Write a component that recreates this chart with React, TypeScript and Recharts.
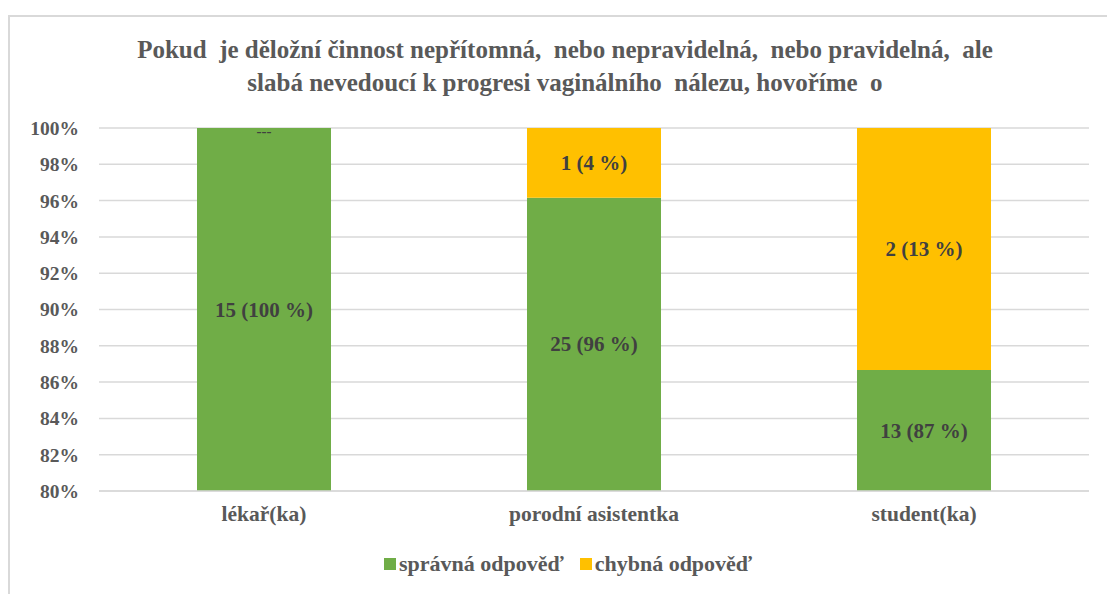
import React from 'react';
import { BarChart, Bar, XAxis, YAxis, CartesianGrid, LabelList, Legend } from 'recharts';

const categories = ['lékař(ka)', 'porodní asistentka', 'student(ka)'];
const correctCounts = [15, 25, 13];
const wrongCounts = [0, 1, 2];
const yTicks = [80, 82, 84, 86, 88, 90, 92, 94, 96, 98, 100];
const seriesNames = ['správná odpověď', 'chybná odpověď'];
const titleLines = [
  'Pokud  je děložní činnost nepřítomná,  nebo nepravidelná,  nebo pravidelná,  ale',
  'slabá nevedoucí k progresi vaginálního  nálezu, hovoříme  o',
];

const GREEN = '#70AD47';
const YELLOW = '#FFC000';
const TEXT = '#595959';
const FONT = 'Liberation Serif, Times New Roman, serif';

const data = categories.map((c, i) => {
  const total = correctCounts[i] + wrongCounts[i];
  const cp = (correctCounts[i] / total) * 100;
  const wp = (wrongCounts[i] / total) * 100;
  return {
    name: c,
    correct: cp,
    wrong: wp,
    correctLabel: `${correctCounts[i]} (${Math.round(cp)} %)`,
    wrongLabel: wrongCounts[i] === 0 ? '---' : `${wrongCounts[i]} (${Math.round(wp)} %)`,
    wrongCount: wrongCounts[i],
  };
});

const labelStyle = { fill: '#404040', fontFamily: FONT, fontWeight: 'bold' as const };

const CorrectLabel = (props: any) => {
  const { x, y, width, height, value } = props;
  const entry = data.find((d) => d.correctLabel === value);
  return (
    <g>
      <text x={x + width / 2} y={y + height / 2} textAnchor="middle" dominantBaseline="central" fontSize={21} {...labelStyle}>
        {value}
      </text>
      {entry && entry.wrongCount === 0 ? (
        <text x={x + width / 2} y={y + 3} textAnchor="middle" dominantBaseline="central" fontSize={15} {...labelStyle}>
          {entry.wrongLabel}
        </text>
      ) : null}
    </g>
  );
};

const WrongLabel = (props: any) => {
  const { x, y, width, height, value } = props;
  if (!height) return null;
  return (
    <text x={x + width / 2} y={y + height / 2} textAnchor="middle" dominantBaseline="central" fontSize={21} {...labelStyle}>
      {value}
    </text>
  );
};

const renderLegend = () => (
  <div style={{ display: 'flex', justifyContent: 'center', alignItems: 'center', fontFamily: FONT, fontWeight: 'bold', fontSize: 22, color: TEXT, whiteSpace: 'nowrap' }}>
    {[GREEN, YELLOW].map((col, i) => (
      <div key={i} style={{ display: 'flex', alignItems: 'center', marginRight: i === 0 ? 16 : 0 }}>
        <span style={{ display: 'inline-block', width: 12, height: 12, background: col, marginRight: 3 }} />
        <span>{seriesNames[i]}</span>
      </div>
    ))}
  </div>
);

export default function App() {
  return (
    <div style={{ position: 'absolute', left: 0, top: 0, width: 1107, height: 594, background: '#fff', overflow: 'hidden' }}>
      <div style={{ position: 'absolute', left: 8, top: 15, width: 1120, height: 600, borderLeft: '2px solid #d9d9d9', borderTop: '2px solid #d9d9d9' }} />
      <div style={{ position: 'absolute', left: 0, top: 33, width: 1130, textAlign: 'center', fontFamily: FONT, fontWeight: 'bold', fontSize: 25, lineHeight: '33px', color: TEXT, whiteSpace: 'pre' }}>
        {titleLines.map((l, i) => (
          <div key={i}>{l}</div>
        ))}
      </div>
      <div style={{ position: 'absolute', left: 0, top: 0 }}>
        <BarChart width={1107} height={594} data={data} margin={{ top: 128, right: 18, left: 0, bottom: 47 }} barSize={134}>
          <CartesianGrid vertical={false} stroke="#d9d9d9" strokeWidth={1.5} />
          <XAxis
            dataKey="name"
            axisLine={{ stroke: '#d9d9d9', strokeWidth: 1.5 }}
            tickLine={false}
            tickMargin={9}
            height={30}
            tick={{ fill: TEXT, fontFamily: FONT, fontWeight: 'bold', fontSize: 21.5 }}
          />
          <YAxis
            width={99}
            domain={[80, 100]}
            ticks={yTicks}
            allowDataOverflow
            axisLine={false}
            tickLine={false}
            tickMargin={14}
            interval={0}
            tickFormatter={(v: number) => `${v}%`}
            tick={{ fill: TEXT, fontFamily: FONT, fontWeight: 'bold', fontSize: 19.5 }}
          />
          <Legend content={renderLegend} wrapperStyle={{ left: 368, width: 400, top: 551 }} />
          <Bar dataKey="correct" stackId="a" fill={GREEN} name={seriesNames[0]} isAnimationActive={false}>
            <LabelList dataKey="correctLabel" content={CorrectLabel} />
          </Bar>
          <Bar dataKey="wrong" stackId="a" fill={YELLOW} name={seriesNames[1]} isAnimationActive={false}>
            <LabelList dataKey="wrongLabel" content={WrongLabel} />
          </Bar>
        </BarChart>
      </div>
    </div>
  );
}
